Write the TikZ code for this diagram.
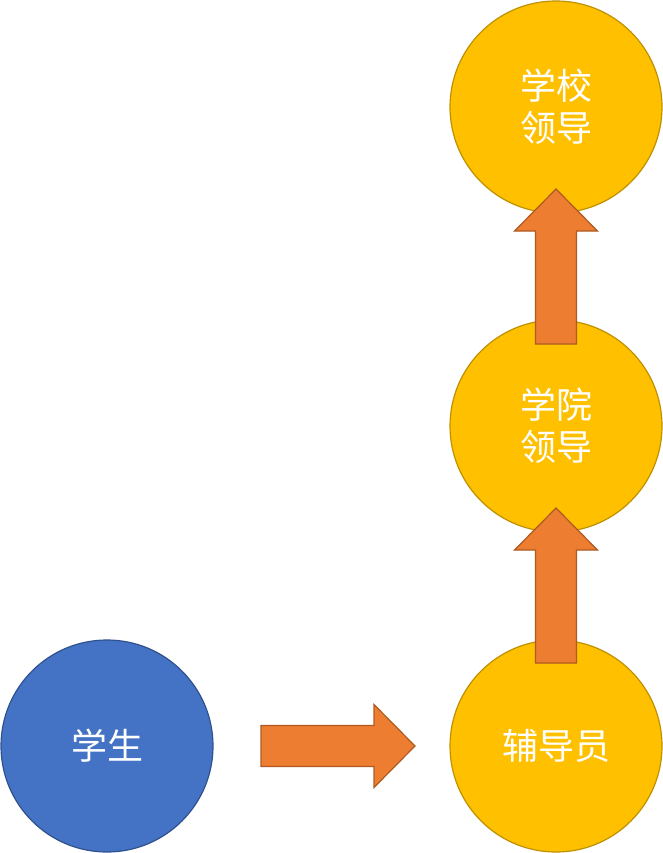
\documentclass[tikz,border=0pt]{standalone}
\usepackage{fontspec}
\usepackage{tikz}
\usetikzlibrary{positioning}
\newfontfamily\cjk{Noto Sans CJK SC}
\definecolor{StuBlue}{RGB}{68,114,196}
\definecolor{StuEdge}{RGB}{47,82,143}
\definecolor{LeadGold}{RGB}{255,192,0}
\definecolor{LeadEdge}{RGB}{191,144,0}
\definecolor{ArrOrange}{RGB}{237,125,49}
\definecolor{ArrEdge}{RGB}{174,90,33}
\tikzset{
  person/.style={circle, minimum size=212pt, inner sep=0pt, line width=1.2pt,
                 align=center, text=white, font=\cjk\fontsize{36}{42}\selectfont},
  student/.style={person, draw=StuEdge, fill=StuBlue},
  leader/.style={person, draw=LeadEdge, fill=LeadGold},
  blockarr/.style={draw=ArrEdge, fill=ArrOrange, line width=1.2pt, line join=miter}
}
\begin{document}
\begin{tikzpicture}[x=1pt, y=-1pt]
\useasboundingbox (0,0) rectangle (662,853);
\node[student] (stu) at (107,746) {学生};
\node[leader] (couns) at (556,746) {辅导员};
\node[leader] (college) at (556,426) {学院\\领导};
\node[leader] (school) at (556,107) {学校\\领导};
% block arrows
\coordinate (h0) at (261,746);
\draw[blockarr] ([yshift=20.5]h0) -- ++(113,0) -- ++(0,-21) -- (415,746)
  -- (374,787.5) -- ++(0,-21) -- ([yshift=-20.5]h0) -- cycle;
\coordinate (v1) at (556,663);
\draw[blockarr] ([xshift=-20.5]v1) -- ++(0,-113) -- ++(-21,0) -- (556,508)
  -- (597.5,550) -- ++(-21,0) -- ([xshift=20.5]v1) -- cycle;
\coordinate (v2) at (556,344);
\draw[blockarr] ([xshift=-20.5]v2) -- ++(0,-113) -- ++(-21,0) -- (556,189)
  -- (597.5,231) -- ++(-21,0) -- ([xshift=20.5]v2) -- cycle;
\end{tikzpicture}
\end{document}
